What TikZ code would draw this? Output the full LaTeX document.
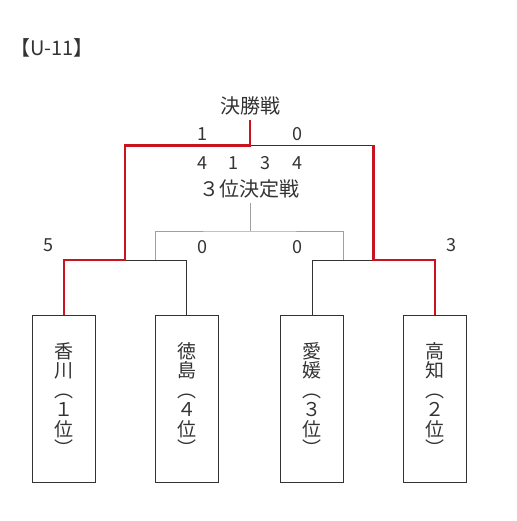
\documentclass[tikz,border=0pt]{standalone}
\usepackage{fontspec}
\setmainfont{Noto Sans CJK JP}
\definecolor{txt}{HTML}{333333}
\definecolor{linec}{HTML}{333333}
\definecolor{grayl}{HTML}{A0A0A0}
\definecolor{redl}{HTML}{C8141E}
\begin{document}
\begin{tikzpicture}[x=1pt,y=-1pt,
  lbl/.style={font=\fontsize{18}{20}\selectfont, text=txt, inner sep=0pt},
  cjk/.style={font=\fontsize{20}{22}\selectfont, text=txt, inner sep=0pt},
  team/.style={draw=linec, line width=0.9pt, minimum width=63pt, minimum height=166.6pt,
    inner sep=0pt, align=center, text=txt, font=\fontsize{19}{19.5}\selectfont},
  win/.style={draw=redl, line width=2.4pt},
  lose/.style={draw=linec, line width=0.9pt},
  third/.style={draw=grayl, line width=0.9pt}]
\useasboundingbox (0,0) rectangle (516,521);

% title
\node[cjk] (title) at (52,48) {【U-11】};

% teams
\node[team] (kagawa) at (63.8,399) {香\\川\\︵\\１\\位\\︶};
\node[team] (tokushima) at (186.5,399) {徳\\島\\︵\\４\\位\\︶};
\node[team] (ehime) at (312.2,399) {愛\\媛\\︵\\３\\位\\︶};
\node[team] (kochi) at (435,399) {高\\知\\︵\\２\\位\\︶};

% labels
\node[cjk] (final) at (250,106) {決勝戦};
\node[lbl] (fs1) at (202,134) {1};
\node[lbl] (fs2) at (297,134) {0};
\node[lbl] (pk1) at (202,163) {4};
\node[lbl] (pk2) at (233,163) {1};
\node[lbl] (pk3) at (265,163) {3};
\node[lbl] (pk4) at (297,163) {4};
\node[cjk] (thirdlbl) at (249,189) {３位決定戦};
\node[lbl] (ts1) at (202,247) {0};
\node[lbl] (ts2) at (297,247) {0};
\node[lbl] (ss1) at (48,245) {5};
\node[lbl] (ss2) at (451,245) {3};

% junctions
\coordinate (ftop) at (250,120);
\coordinate (jF) at (250,145.5);
\coordinate (jL) at (125,260);
\coordinate (jR) at (373.5,260);
\coordinate (jFR) at (373.5,145.5);
\coordinate (ttop) at (250,203);
\coordinate (tj) at (250,231);
\coordinate (tL) at (155,260);
\coordinate (tR) at (343.5,260);

% third place bracket
\draw[third] (ttop) -- (tj);
\draw[third] (tL) |- (tj) -| (tR);

% losing lines
\draw[lose] (tokushima.north) |- (jL);
\draw[lose] (ehime.north) |- (jR);
\draw[lose] (jF) -- (jFR);

% winning lines
\draw[win] (kagawa.north) |- (jL) |- (jF) -- (ftop);
\draw[win] (kochi.north) |- (jR) -- (jFR);
\end{tikzpicture}
\end{document}
